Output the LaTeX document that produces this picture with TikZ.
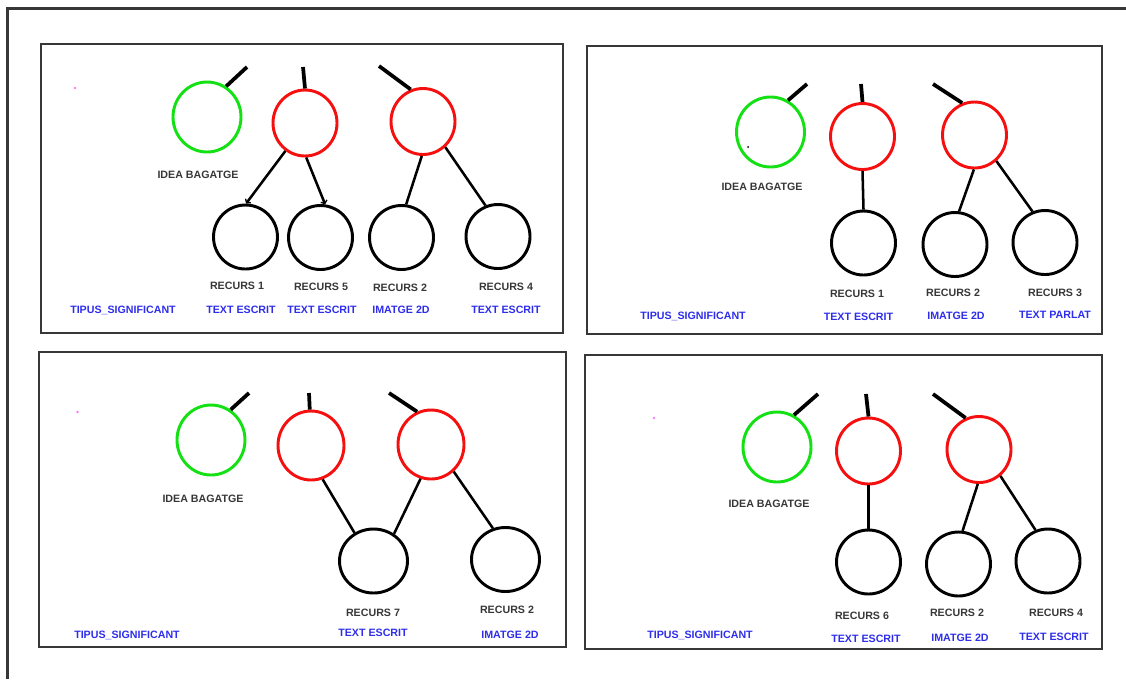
\documentclass[tikz,border=0pt]{standalone}
\usepackage{fontspec}
\setmainfont{Liberation Sans}
\usetikzlibrary{shapes.geometric,arrows.meta}
\definecolor{frame}{RGB}{55,55,55}
\definecolor{txtgray}{RGB}{55,55,55}
\definecolor{txtblue}{RGB}{45,45,235}
\definecolor{idea}{RGB}{20,225,20}
\definecolor{res}{RGB}{245,15,15}
\definecolor{dotpink}{RGB}{250,120,250}
\tikzset{
  bub/.style 2 args={ellipse, draw, line width=2.2pt, inner sep=0pt,
    minimum width=#1*0.75pt, minimum height=#2*0.75pt},
  ideanode/.style={bub={68}{70}, draw=idea},
  resnode/.style={bub={64}{66}, draw=res},
  leafnode/.style={bub={64}{64}, draw=black},
  panel/.style={draw=frame, line width=1.4pt},
  stub/.style={line width=2.8pt, black},
  link/.style={line width=1.9pt, black},
  tip/.style={-{Straight Barb[length=2pt,width=5pt,line width=1pt]}},
  lbl/.style={font=\bfseries\fontsize{8}{9}\selectfont, text=txtgray, inner sep=0pt, anchor=base},
  blbl/.style={lbl, text=txtblue},
  pinkdot/.style={fill=dotpink, inner sep=0pt, minimum size=2pt, circle}
}
\begin{document}
\begin{tikzpicture}[x=0.75pt,y=-0.75pt]
\useasboundingbox (0,0) rectangle (1126,679);
% outer frame (top and left edges)
\draw[frame, line width=1.6pt] (7.5,679) -- (7.5,8.5) -- (1126,8.5);

% ---------------- panel 1 ----------------
\draw[panel] (41,44) rectangle (563,333);
\node[pinkdot] (p1dot) at (75,88) {};
\node[ideanode] (p1g) at (207,117) {};
\node[resnode] (p1r1) at (305,123) {};
\node[resnode] (p1r2) at (423,121.5) {};
\node[leafnode] (p1b1) at (245.5,237) {};
\node[leafnode] (p1b2) at (320.5,237.5) {};
\node[leafnode] (p1b3) at (401.5,237.5) {};
\node[leafnode] (p1b4) at (498,236.5) {};
\coordinate (p1gs) at (247,67);
\coordinate (p1r1s) at (303,67);
\coordinate (p1r2s) at (379,66);
\draw[stub] (p1g.58) -- (p1gs);
\draw[stub] (p1r1.90) -- (p1r1s);
\draw[stub] (p1r2.111) -- (p1r2s);
\draw[link,tip] (p1r1.-125) -- (p1b1.89);
\draw[link,tip] (p1r1.-88) -- (p1b2.82);
\draw[link] (p1r2.-92) -- (p1b3.82);
\draw[link] (p1r2.-49) -- (p1b4.112);
\node[lbl] (p1gl) at (198,178) {IDEA BAGATGE};
\node[lbl] (p1l1) at (237,289) {RECURS 1};
\node[lbl] (p1l2) at (321,290) {RECURS 5};
\node[lbl] (p1l3) at (400,291) {RECURS 2};
\node[lbl] (p1l4) at (506,290) {RECURS 4};
\node[blbl] (p1t0) at (123,313) {TIPUS\_SIGNIFICANT};
\node[blbl] (p1t1) at (241,313) {TEXT ESCRIT};
\node[blbl] (p1t2) at (322,313) {TEXT ESCRIT};
\node[blbl] (p1t3) at (401,313) {IMATGE 2D};
\node[blbl] (p1t4) at (506,313) {TEXT ESCRIT};

% ---------------- panel 2 ----------------
\draw[panel] (587,46) rectangle (1102,334);
\node[ideanode] (p2g) at (770.5,132) {};
\node[fill=black, circle, inner sep=0pt, minimum size=1.5pt] (p2dot) at (748,147) {};
\node[resnode] (p2r1) at (862.5,136.5) {};
\node[resnode] (p2r2) at (974.5,135) {};
\node[leafnode] (p2b1) at (863.5,243) {};
\node[leafnode] (p2b2) at (955,244.5) {};
\node[leafnode] (p2b3) at (1045,242.5) {};
\coordinate (p2gs) at (807,84);
\coordinate (p2r1s) at (861,84);
\coordinate (p2r2s) at (933,84);
\draw[stub] (p2g.61) -- (p2gs);
\draw[stub] (p2r1.90) -- (p2r1s);
\draw[stub] (p2r2.111) -- (p2r2s);
\draw[link] (p2r1.-90) -- (p2b1.90);
\draw[link] (p2r2.-91) -- (p2b2.83);
\draw[link] (p2r2.-50) -- (p2b3.112);
\node[lbl] (p2gl) at (762,190) {IDEA BAGATGE};
\node[lbl] (p2l1) at (857,297) {RECURS 1};
\node[lbl] (p2l2) at (953,296) {RECURS 2};
\node[lbl] (p2l3) at (1055,296) {RECURS 3};
\node[blbl] (p2t0) at (693,319) {TIPUS\_SIGNIFICANT};
\node[blbl] (p2t1) at (858.5,320) {TEXT ESCRIT};
\node[blbl] (p2t2) at (956,319) {IMATGE 2D};
\node[blbl] (p2t3) at (1055,318) {TEXT PARLAT};

% ---------------- panel 3 ----------------
\draw[panel] (39,352) rectangle (566,647);
\node[pinkdot] (p3dot) at (77.5,412) {};
\node[ideanode] (p3g) at (211,440) {};
\node[resnode, minimum width=66*0.75pt, minimum height=69*0.75pt] (p3r1) at (311,445.5) {};
\node[resnode, minimum width=66*0.75pt, minimum height=69*0.75pt] (p3r2) at (431,444.5) {};
\node[leafnode, minimum width=68*0.75pt] (p3b1) at (373.5,561) {};
\node[leafnode, minimum width=68*0.75pt] (p3b2) at (505.5,559.5) {};
\coordinate (p3gs) at (249,393);
\coordinate (p3r1s) at (309,393);
\coordinate (p3r2s) at (389,393);
\draw[stub] (p3g.57) -- (p3gs);
\draw[stub] (p3r1.92) -- (p3r1s);
\draw[stub] (p3r2.113) -- (p3r2s);
\draw[link] (p3r1.-71) -- (p3b1.124);
\draw[link] (p3r2.-107) -- (p3b1.53);
\draw[link] (p3r2.-50) -- (p3b2.112);
\node[lbl] (p3gl) at (203,502) {IDEA BAGATGE};
\node[lbl] (p3l1) at (373,616) {RECURS 7};
\node[lbl] (p3l2) at (507,613) {RECURS 2};
\node[blbl] (p3t0) at (127,638) {TIPUS\_SIGNIFICANT};
\node[blbl] (p3t1) at (373,636) {TEXT ESCRIT};
\node[blbl] (p3t2) at (510,638) {IMATGE 2D};

% ---------------- panel 4 ----------------
\draw[panel] (585,355) rectangle (1102,649);
\node[pinkdot] (p4dot) at (654,418) {};
\node[ideanode] (p4g) at (777,447) {};
\node[resnode] (p4r1) at (868.5,451) {};
\node[resnode] (p4r2) at (979,449.5) {};
\node[leafnode] (p4b1) at (868.5,562) {};
\node[leafnode] (p4b2) at (958.5,564) {};
\node[leafnode] (p4b3) at (1048,561) {};
\coordinate (p4gs) at (818,394);
\coordinate (p4r1s) at (866,394);
\coordinate (p4r2s) at (933,394);
\draw[stub] (p4g.62) -- (p4gs);
\draw[stub] (p4r1.90) -- (p4r1s);
\draw[stub] (p4r2.113) -- (p4r2s);
\draw[link] (p4r1.-90) -- (p4b1.90);
\draw[link] (p4r2.-92) -- (p4b2.83);
\draw[link] (p4r2.-51) -- (p4b3.112);
\node[lbl] (p4gl) at (769,507) {IDEA BAGATGE};
\node[lbl] (p4l1) at (862,619) {RECURS 6};
\node[lbl] (p4l2) at (957,616) {RECURS 2};
\node[lbl] (p4l3) at (1056,616) {RECURS 4};
\node[blbl] (p4t0) at (700,638) {TIPUS\_SIGNIFICANT};
\node[blbl] (p4t1) at (866,642) {TEXT ESCRIT};
\node[blbl] (p4t2) at (960,641) {IMATGE 2D};
\node[blbl] (p4t3) at (1054,640) {TEXT ESCRIT};
\end{tikzpicture}
\end{document}
